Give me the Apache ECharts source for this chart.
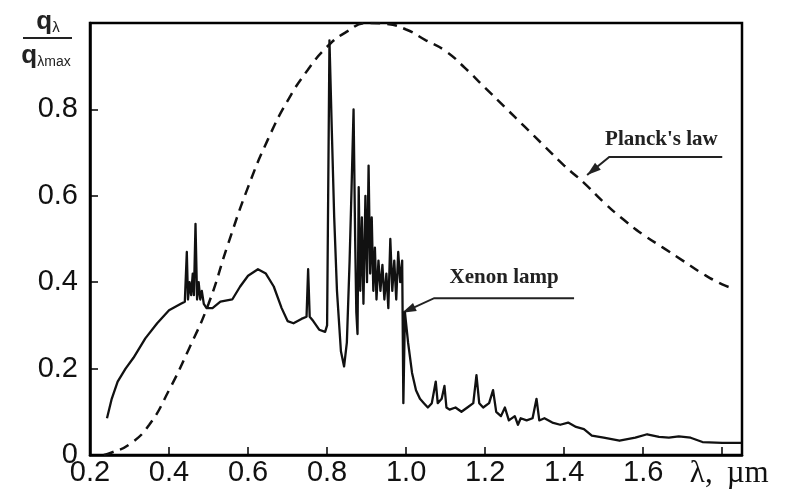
<!DOCTYPE html>
<html><head><meta charset="utf-8">
<script src="https://cdn.jsdelivr.net/npm/echarts@6/dist/echarts.min.js"></script>
<style>html,body{margin:0;padding:0;background:#fff}#c{width:787px;height:492px}</style>
</head><body><div id="c"></div>
<script>
// Planck's law curve (normalized q / q_max)
const planckWl = [0.235,0.25,0.3,0.35,0.4,0.45,0.5,0.55,0.6,0.65,0.7,0.75,0.8,0.85,0.9,0.95,1.0,1.05,1.1,1.15,1.2,1.25,1.3,1.35,1.4,1.45,1.5,1.55,1.6,1.65,1.7,1.75,1.8,1.83];
const planckQ  = [0,0.004,0.025,0.07,0.15,0.245,0.35,0.49,0.62,0.73,0.82,0.89,0.945,0.98,1.0,0.998,0.985,0.96,0.935,0.895,0.85,0.805,0.76,0.715,0.67,0.63,0.585,0.545,0.51,0.48,0.45,0.42,0.395,0.385];
// Xenon lamp spectrum
const xenonWl = [0.243,0.255,0.27,0.29,0.31,0.34,0.37,0.40,0.43,0.44,0.445,0.448,0.452,0.456,0.46,0.463,0.467,0.471,0.475,0.479,0.483,0.488,0.495,0.51,0.53,0.56,0.58,0.60,0.625,0.645,0.665,0.685,0.70,0.715,0.735,0.748,0.752,0.756,0.765,0.78,0.795,0.80,0.806,0.812,0.818,0.825,0.835,0.843,0.85,0.857,0.862,0.867,0.871,0.874,0.877,0.88,0.884,0.888,0.892,0.897,0.901,0.905,0.909,0.913,0.917,0.921,0.925,0.93,0.935,0.94,0.945,0.95,0.955,0.96,0.965,0.97,0.975,0.98,0.985,0.99,0.993,0.997,1.005,1.015,1.025,1.035,1.045,1.055,1.065,1.075,1.08,1.09,1.097,1.102,1.11,1.125,1.14,1.155,1.17,1.178,1.185,1.195,1.21,1.22,1.228,1.24,1.25,1.26,1.275,1.283,1.29,1.305,1.32,1.33,1.337,1.35,1.37,1.39,1.41,1.43,1.45,1.47,1.5,1.54,1.58,1.61,1.64,1.665,1.69,1.72,1.75,1.8,1.848];
const xenonQ  = [0.085,0.13,0.17,0.2,0.225,0.27,0.305,0.335,0.35,0.355,0.47,0.36,0.40,0.37,0.42,0.37,0.535,0.36,0.40,0.36,0.38,0.35,0.34,0.34,0.355,0.36,0.39,0.415,0.43,0.42,0.39,0.34,0.31,0.305,0.315,0.32,0.43,0.32,0.31,0.29,0.285,0.3,0.96,0.75,0.55,0.38,0.24,0.205,0.26,0.45,0.62,0.80,0.5,0.33,0.28,0.62,0.38,0.55,0.35,0.60,0.40,0.67,0.42,0.55,0.38,0.48,0.36,0.45,0.38,0.44,0.36,0.42,0.34,0.50,0.38,0.45,0.36,0.47,0.40,0.45,0.12,0.33,0.26,0.19,0.15,0.13,0.12,0.11,0.12,0.17,0.12,0.13,0.16,0.11,0.105,0.11,0.10,0.11,0.12,0.185,0.12,0.11,0.12,0.15,0.10,0.09,0.11,0.08,0.09,0.07,0.085,0.08,0.085,0.13,0.08,0.085,0.075,0.07,0.075,0.065,0.06,0.045,0.04,0.033,0.04,0.048,0.042,0.04,0.043,0.04,0.03,0.028,0.028];

const chart = echarts.init(document.getElementById('c'), null, {renderer:'canvas'});
const planck = planckWl.map((w,i)=>[w, planckQ[i]]);
const xenon = xenonWl.map((w,i)=>[w, xenonQ[i]]);

const labelFont = {fontFamily:'Liberation Sans, Arial, sans-serif', fontSize:29, color:'#111'};
const serif = 'Liberation Serif, Times New Roman, serif';

chart.setOption({
  animation:false,
  backgroundColor:'#fff',
  grid:{left:90, right:45, top:23, bottom:37, show:true, borderColor:'#000', borderWidth:2.5, backgroundColor:'transparent'},
  xAxis:{type:'value', min:0.2, max:1.85, interval:0.2,
    axisLine:{lineStyle:{color:'#000', width:2.5}},
    axisTick:{inside:true, length:8, lineStyle:{color:'#000', width:1.5}},
    splitLine:{show:false},
    axisLabel:Object.assign({margin:3, showMaxLabel:false,
      formatter:v=> Math.abs(v-1.8)<1e-6 ? '{a|λ,}{b|µm}' : v.toFixed(1),
      rich:{a:{fontFamily:serif, fontSize:31, color:'#111', padding:[0,0,0,14]},
            b:{fontFamily:serif, fontSize:31, color:'#111', padding:[0,0,0,14]}}
    }, labelFont)
  },
  yAxis:{type:'value', min:0, max:1, interval:0.2,
    axisLine:{lineStyle:{color:'#000', width:2.5}},
    axisTick:{inside:true, length:8, lineStyle:{color:'#000', width:1.5}},
    splitLine:{show:false},
    axisLabel:Object.assign({margin:12,
      formatter:v=> v>0.999 ? '' : (v===0 ? '0' : v.toFixed(1))}, labelFont)
  },
  series:[
    {type:'line', name:"Planck's law", data:planck, smooth:true, showSymbol:false,
     lineStyle:{color:'#111', width:2.5, type:[10,7]}},
    {type:'line', name:'Xenon lamp', data:xenon, smooth:false, showSymbol:false,
     lineStyle:{color:'#111', width:2.3, join:'round'}}
  ]
});

function px(p){ return chart.convertToPixel({gridIndex:0}, p); }
function arrowHead(tip, from, len, wid){
  const dx = tip[0]-from[0], dy = tip[1]-from[1];
  const L = Math.hypot(dx,dy), ux=dx/L, uy=dy/L;
  const bx = tip[0]-ux*len, by = tip[1]-uy*len;
  return [[tip[0],tip[1]],[bx-uy*wid/2, by+ux*wid/2],[bx+uy*wid/2, by-ux*wid/2]];
}
const planckLeader = [[1.80,0.69],[1.514,0.69],[1.458,0.648]].map(px);
const xenonLeader = [[1.425,0.363],[1.071,0.363],[0.99,0.329]].map(px);
const planckText = px([1.646,0.731]);
const xenonText = px([1.248,0.41]);
const annFont = {fontFamily:serif, fontWeight:'bold', fontSize:21, fill:'#222'};

chart.setOption({graphic:[
  {type:'text', x:planckText[0], y:planckText[1], style:Object.assign({text:"Planck's law", align:'center', verticalAlign:'middle'}, annFont)},
  {type:'text', x:xenonText[0], y:xenonText[1], style:Object.assign({text:'Xenon lamp', align:'center', verticalAlign:'middle'}, annFont)},
  {type:'polyline', shape:{points:planckLeader}, style:{stroke:'#222', lineWidth:2, fill:null}},
  {type:'polyline', shape:{points:xenonLeader}, style:{stroke:'#222', lineWidth:2, fill:null}},
  {type:'polygon', shape:{points:arrowHead(planckLeader[2], planckLeader[1], 14, 9)}, style:{fill:'#222'}},
  {type:'polygon', shape:{points:arrowHead(xenonLeader[2], xenonLeader[1], 14, 9)}, style:{fill:'#222'}},
  {type:'text', x:48, y:35, style:{text:'{q|q}{s|λ}', align:'center', verticalAlign:'bottom',
    rich:{q:{fontFamily:'Liberation Sans, Arial, sans-serif', fontSize:26, fill:'#222', fontWeight:'bold'},
          s:{fontFamily:'Liberation Sans, Arial, sans-serif', fontSize:15, fill:'#222', verticalAlign:'bottom', padding:[6,0,0,0]}}}},
  {type:'line', shape:{x1:23, y1:38, x2:72, y2:38}, style:{stroke:'#222', lineWidth:2.2}},
  {type:'text', x:46, y:43, style:{text:'{q|q}{s|λmax}', align:'center', verticalAlign:'top',
    rich:{q:{fontFamily:'Liberation Sans, Arial, sans-serif', fontSize:26, fill:'#222', fontWeight:'bold'},
          s:{fontFamily:'Liberation Sans, Arial, sans-serif', fontSize:14, fill:'#222', verticalAlign:'bottom', padding:[6,0,0,0]}}}}
]});
</script></body></html>
